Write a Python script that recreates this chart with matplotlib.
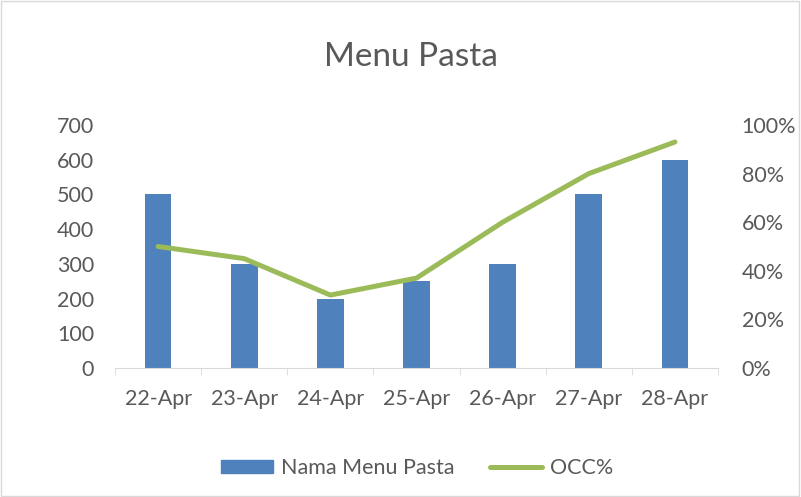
import numpy as np
import matplotlib
matplotlib.use("Agg")
from matplotlib import pyplot as plt
from matplotlib.patches import Rectangle
from matplotlib.lines import Line2D

dates = ["22-Apr", "23-Apr", "24-Apr", "25-Apr", "26-Apr", "27-Apr", "28-Apr"]
menu_pasta = [500, 300, 200, 250, 300, 500, 600]
occ = [0.50, 0.45, 0.30, 0.37, 0.60, 0.80, 0.93]

plt.rcParams['font.family'] = ['Lato', 'DejaVu Sans']
txt = '#595959'
bar_col = '#4F81BD'
line_col = '#9BBB59'
fs = 15.5

fig = plt.figure(figsize=(8.01, 4.97), dpi=100)
fig.patches.append(Rectangle((0.001, 0.002), 0.997, 0.996, transform=fig.transFigure,
                             fill=False, edgecolor='#d9d9d9', linewidth=1))

ax = fig.add_axes([0.1436, 0.2596, 0.7528, 0.4889])
x = np.arange(len(dates))
ax.bar(x, menu_pasta, width=0.31, color=bar_col)
ax.set_xlim(-0.5, len(dates) - 0.5)
ax.set_ylim(0, 700)
ax.set_yticks(range(0, 701, 100))

ax2 = ax.twinx()
ax2.plot(x, occ, color=line_col, linewidth=3.6, solid_capstyle='round', solid_joinstyle='round')
ax2.set_ylim(0, 1)
ax2.set_yticks(np.arange(0, 1.01, 0.2))
ax2.set_yticklabels([f"{int(round(v * 100))}%" for v in np.arange(0, 1.01, 0.2)])

for a in (ax, ax2):
    for s in a.spines.values():
        s.set_visible(False)
ax.spines['bottom'].set_visible(True)
ax.spines['bottom'].set_color('#d9d9d9')

ax.set_xticks(x)
ax.set_xticklabels(dates)
ax.set_xticks(np.arange(-0.5, len(dates), 1), minor=True)
ax.tick_params(axis='x', which='major', length=0, pad=15, labelsize=fs, labelcolor=txt)
ax.tick_params(axis='x', which='minor', length=5, color='#d9d9d9')
ax.tick_params(axis='y', length=0, pad=15, labelsize=fs, labelcolor=txt)
ax2.tick_params(axis='y', length=0, pad=17, labelsize=fs, labelcolor=txt)

fig.text(0.513, 0.885, "Menu Pasta", ha='center', va='center', fontsize=24, color=txt)

handles = [Rectangle((0, 0), 1, 1, color=bar_col),
           Line2D([0], [0], color=line_col, linewidth=3.6, solid_capstyle='round')]
fig.legend(handles, ["Nama Menu Pasta", "OCC%"], loc='center', bbox_to_anchor=(0.521, 0.058),
           ncol=2, frameon=False, fontsize=fs, labelcolor=txt, handlelength=2.4,
           handleheight=0.6, handletextpad=0.37, columnspacing=1.67)

fig.savefig("out.png", dpi=100)
